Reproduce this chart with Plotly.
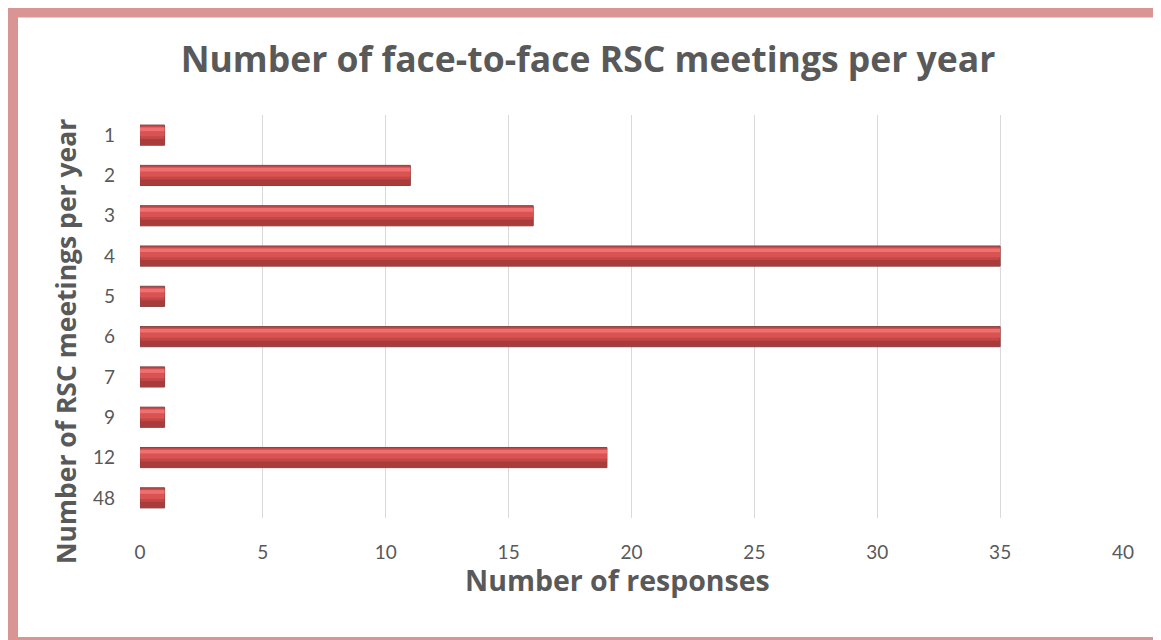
import plotly.graph_objects as go

categories = ["1", "2", "3", "4", "5", "6", "7", "9", "12", "48"]
responses = [1, 11, 16, 35, 1, 35, 1, 1, 19, 1]
x_ticks = [0, 5, 10, 15, 20, 25, 30, 35, 40]

title_text = "Number of face-to-face RSC meetings per year"
x_title = "Number of responses"
y_title = "Number of RSC meetings per year"

# page body has an 8px margin; figure sized so it fills the 1161x640 window
OFF = 8
W, H = 1161 - OFF, 640 - OFF
L, R, T, B = 140 - OFF, 1161 - 1123, 115 - OFF, 640 - 518
pw, ph = W - L - R, H - T - B

def px_x(p):
    return (p - OFF - L) / pw

def px_y(p):
    return (H - B - (p - OFF)) / ph

FONT = "Open Sans"
TICKFONT = "Lato"
GRAY = "#595959"

fig = go.Figure()
# base bar
fig.add_trace(go.Bar(
    y=categories, x=responses, orientation="h", width=0.5,
    marker=dict(color="#C44646", line=dict(color="#7E4545", width=1)),
    hoverinfo="x+y", showlegend=False,
))
# middle body
fig.add_trace(go.Bar(
    y=categories, x=responses, orientation="h", width=0.24, offset=-0.21,
    marker=dict(color="#D95353", line=dict(width=0)),
    hoverinfo="skip", showlegend=False,
))
# top highlight
fig.add_trace(go.Bar(
    y=categories, x=responses, orientation="h", width=0.09, offset=-0.19,
    marker=dict(color="#EE7070", line=dict(width=0)),
    hoverinfo="skip", showlegend=False,
))
# bottom shade
fig.add_trace(go.Bar(
    y=categories, x=responses, orientation="h", width=0.14, offset=0.1,
    marker=dict(color="#A93B3B", line=dict(width=0)),
    hoverinfo="skip", showlegend=False,
))

fig.update_layout(
    width=W, height=H,
    margin=dict(l=L, r=R, t=T, b=B, autoexpand=False),
    paper_bgcolor="white", plot_bgcolor="white",
    barmode="overlay",
    title=dict(text=title_text, x=(588 - OFF) / W, xanchor="center",
               y=1 - (60 - OFF) / H, yanchor="middle",
               font=dict(family=FONT, size=35.5, color=GRAY, weight="bold")),
    xaxis=dict(range=[0, 40], tickvals=x_ticks, showgrid=True,
               gridcolor="#D9D9D9", gridwidth=1.3, zeroline=False,
               showline=False, ticks="", ticklabelstandoff=21,
               tickfont=dict(family=TICKFONT, size=19, color=GRAY)),
    yaxis=dict(type="category", categoryorder="array", categoryarray=categories,
               autorange="reversed", showgrid=False, zeroline=False,
               showline=False, ticks="", ticklabelstandoff=24,
               tickfont=dict(family=TICKFONT, size=19, color=GRAY)),
    annotations=[
        dict(text=x_title, xref="paper", yref="paper", x=px_x(617), y=px_y(580),
             xanchor="center", yanchor="middle", showarrow=False,
             font=dict(family=FONT, size=28.5, color=GRAY, weight="bold")),
        dict(text=y_title, xref="paper", yref="paper", x=px_x(66), y=px_y(342),
             xanchor="center", yanchor="middle", showarrow=False, textangle=-90,
             font=dict(family=FONT, size=26.5, color=GRAY, weight="bold")),
    ],
    shapes=[
        dict(type="rect", xref="paper", yref="paper",
             x0=px_x(12), x1=px_x(1164), y0=px_y(11.5), y1=px_y(643),
             line=dict(color="#D99594", width=12), fillcolor="rgba(0,0,0,0)",
             layer="above"),
    ],
)

fig.write_html("out.html")
